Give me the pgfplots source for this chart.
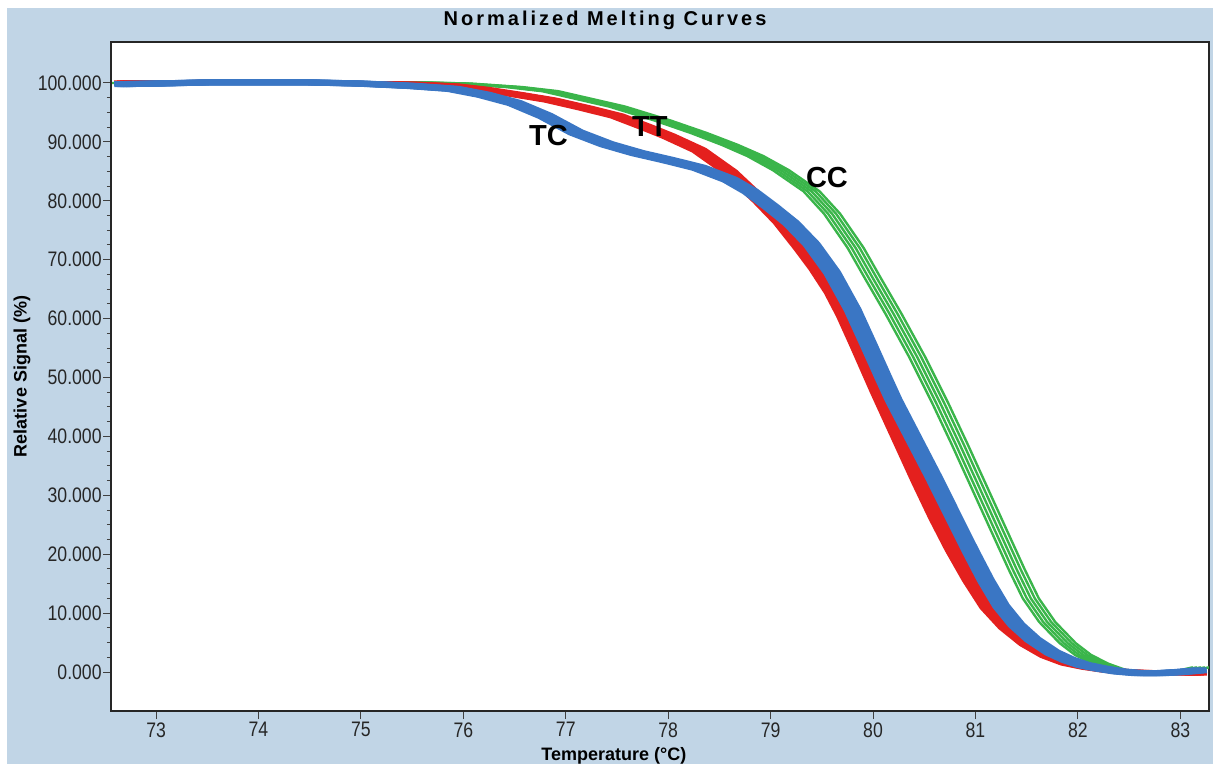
\documentclass[border=0pt]{standalone}
\usepackage{fontspec}
\setmainfont{Liberation Sans}
\newfontfamily\tickfont{Liberation Sans}[FakeStretch=0.84]
\newfontfamily\titlefont{Liberation Sans}[LetterSpace=15]
\usepackage{pgfplots}
\pgfplotsset{compat=1.18}
\usepackage{pgfplotstable}

\definecolor{panel}{RGB}{193,213,230}
\definecolor{ttred}{RGB}{228,32,30}
\definecolor{tcblue}{RGB}{58,118,196}
\definecolor{ccgreen}{RGB}{58,181,74}

% TC (heterozygote), band centre
\pgfplotstableread{
T S
72.65 99.8
73.00 99.9
73.50 100.1
74.00 100.1
74.50 100.1
75.00 99.9
75.50 99.5
75.90 99.0
76.20 98.0
76.50 96.6
76.80 94.4
77.10 91.6
77.40 89.6
77.70 88.1
78.00 86.9
78.30 85.6
78.60 83.6
78.80 81.6
79.00 79.0
79.20 76.2
79.40 72.6
79.60 67.8
79.80 61.5
79.95 55.8
80.10 50.0
80.20 46.2
80.40 39.5
80.60 32.8
80.80 25.8
80.95 20.6
81.10 15.6
81.25 11.2
81.40 8.0
81.56 5.5
81.75 3.3
81.90 2.1
82.05 1.2
82.22 0.6
82.40 0.1
82.60 -0.2
82.80 -0.2
83.00 0.0
83.20 0.3
}\tcdata

% TT
\pgfplotstableread{
T S
72.65 100.0
73.00 100.0
73.50 100.1
74.00 100.1
74.50 100.1
75.00 99.9
75.50 99.8
75.90 99.5
76.20 98.9
76.50 98.1
76.85 97.1
77.20 95.7
77.50 94.4
77.80 92.4
78.00 91.0
78.30 88.6
78.60 84.9
78.90 80.0
79.10 76.4
79.30 72.0
79.45 68.5
79.60 64.5
79.72 60.5
79.85 55.5
80.05 47.6
80.25 40.0
80.45 32.4
80.62 26.2
80.78 20.8
80.95 15.6
81.12 11.0
81.30 7.6
81.50 4.8
81.70 2.8
81.90 1.5
82.10 0.8
82.30 0.3
82.50 0.0
82.70 -0.1
82.90 -0.1
83.20 -0.2
}\ttdata

% CC
\pgfplotstableread{
T S
72.65 100.0
73.00 100.0
73.50 100.0
74.00 100.1
74.50 100.1
75.00 100.1
75.50 100.1
76.00 99.9
76.50 99.3
76.85 98.6
77.15 97.4
77.50 96.0
77.95 93.6
78.30 91.5
78.60 89.5
78.85 87.6
79.10 85.2
79.40 81.6
79.60 77.8
79.83 72.0
80.00 66.8
80.20 60.8
80.43 53.5
80.66 45.5
80.85 38.5
81.02 32.0
81.24 23.6
81.40 17.5
81.54 12.5
81.70 8.5
81.90 4.9
82.05 2.9
82.22 1.4
82.38 0.4
82.55 -0.2
82.70 -0.4
82.90 -0.3
83.05 0.2
83.20 0.8
}\ccdata

\begin{document}
\begin{tikzpicture}
\useasboundingbox (-55.5pt,-26.5pt) rectangle (551pt,355.5pt);
\fill[white] (-55.5pt,-26.5pt) rectangle (551pt,355.5pt);
\fill[panel] (-52pt,-26.5pt) rectangle (551pt,351.5pt);
\begin{axis}[
  scale only axis,
  width=549pt, height=334.5pt,
  xmin=72.56, xmax=83.28,
  ymin=-6.62, ymax=106.96,
  axis background/.style={fill=white},
  axis line style={black!85, line width=0.8pt},
  xtick={73,74,...,83},
  ytick={0,10,...,100},
  minor y tick num=3,
  xtick pos=bottom, ytick pos=left,
  tick align=outside,
  major tick length=4pt, minor tick length=2pt,
  tick style={black!75, line width=0.5pt},
  /pgf/number format/assume math mode=true,
  tick label style={font=\tickfont\fontsize{10.5}{12}\selectfont, text=black!85, inner sep=0pt},
  y tick label style={/pgf/number format/.cd, fixed, fixed zerofill, precision=3, /tikz/.cd},
  x tick label style={/pgf/number format/.cd, fixed, precision=0, /tikz/.cd},
  scaled y ticks=false,
  yticklabel shift=0.5pt,
  xticklabel shift=1.5pt,
  title={Normalized Melting Curves},
  title style={at={(0.45,1)}, anchor=center, yshift=5pt,
    font=\titlefont\bfseries\fontsize{10}{11}\selectfont},
  xlabel={Temperature (°C)},
  ylabel={Relative Signal (\%)},
  label style={font=\bfseries\fontsize{9}{10}\selectfont},
  xlabel style={at={(axis description cs:0.458,-0.0673)}, anchor=center},
  ylabel style={at={(axis description cs:-0.081,0.5)}, anchor=center},
  clip mode=individual,
]
% CC replicates
\addplot[ccgreen, line width=1.2pt, xshift=-4pt] table {\ccdata};
\addplot[ccgreen, line width=1.2pt, xshift=-2pt] table {\ccdata};
\addplot[ccgreen, line width=1.2pt] table {\ccdata};
\addplot[ccgreen, line width=1.2pt, xshift=2pt] table {\ccdata};
\addplot[ccgreen, line width=1.2pt, xshift=4pt] table {\ccdata};
% TT replicates
\addplot[ttred, line width=2.5pt, xshift=-3pt] table {\ttdata};
\addplot[ttred, line width=2.5pt, xshift=-1.5pt] table {\ttdata};
\addplot[ttred, line width=2.5pt] table {\ttdata};
\addplot[ttred, line width=2.5pt, xshift=1.5pt] table {\ttdata};
\addplot[ttred, line width=2.5pt, xshift=3pt] table {\ttdata};
% TC replicates
\addplot[tcblue, line width=3pt, xshift=-3pt] table {\tcdata};
\addplot[tcblue, line width=3pt, xshift=-1.5pt] table {\tcdata};
\addplot[tcblue, line width=3pt] table {\tcdata};
\addplot[tcblue, line width=3pt, xshift=1.5pt] table {\tcdata};
\addplot[tcblue, line width=3pt, xshift=3pt] table {\tcdata};

\node[font=\bfseries\fontsize{14.5}{16}\selectfont] at (axis cs:76.83,91.0) {TC};
\node[font=\bfseries\fontsize{14.5}{16}\selectfont] at (axis cs:77.82,92.6) {TT};
\node[font=\bfseries\fontsize{14.5}{16}\selectfont] at (axis cs:79.55,84.0) {CC};
\end{axis}
\end{tikzpicture}
\end{document}
